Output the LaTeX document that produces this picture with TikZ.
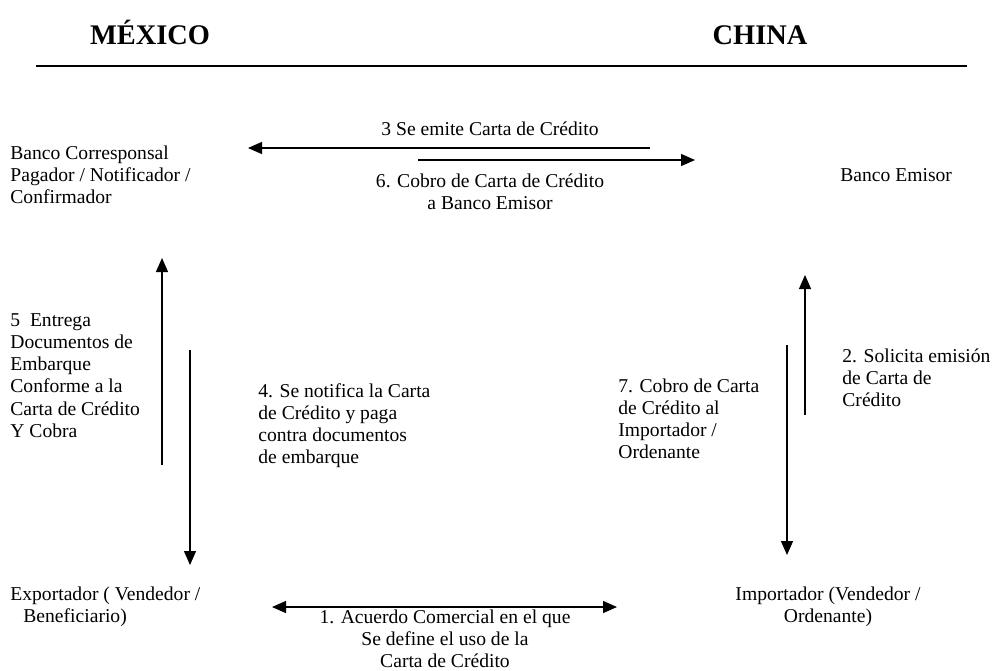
\documentclass[tikz,border=0pt]{standalone}
\usepackage{fontspec}
\setmainfont{Liberation Serif}
\usetikzlibrary{arrows.meta}
\begin{document}
\begin{tikzpicture}[x=0.5pt,y=-0.5pt,
 txt/.style={inner sep=0pt, font=\fontsize{9.8}{11.1}\selectfont},
 lbl/.style={txt, anchor=north west, align=left},
 clbl/.style={txt, anchor=north, align=center},
 hdr/.style={inner sep=0pt, anchor=base, font=\fontsize{14.2}{16}\selectfont\bfseries},
 tip/.tip={Triangle[length=7pt,width=6pt]},
 arr/.style={line width=0.65pt, -tip},
 darr/.style={line width=0.65pt, tip-tip},
 rule/.style={line width=0.6pt}]
\useasboundingbox (0,0) rectangle (1005,670);
% headers
\node[hdr] (mex) at (150,44) {MÉXICO};
\node[hdr] (chn) at (760,44) {CHINA};
\coordinate (ruleL) at (36,66);
\coordinate (ruleR) at (967,66);
\draw[rule] (ruleL) -- (ruleR);
% parties
\node[lbl] (bcorr) at (10,145) {Banco Corresponsal\\Pagador / Notificador /\\Confirmador};
\node[lbl] (bemi) at (840,168) {Banco Emisor};
\node[lbl] (exp) at (10,586) {Exportador ( Vendedor /\\\hspace*{6.5pt}Beneficiario)};
\node[clbl] (imp) at (828,586) {Importador (Vendedor /\\Ordenante)};
% labels
\node[clbl] (l3) at (490,121) {3 Se emite Carta de Crédito};
\node[clbl] (l6) at (490,173) {6. Cobro de Carta de Crédito\\a Banco Emisor};
\node[lbl] (l5) at (10,313) {5\ \ Entrega\\Documentos de\\Embarque\\Conforme a la\\Carta de Crédito\\Y Cobra};
\node[lbl] (l4) at (258,383) {4. Se notifica la Carta\\de Crédito y paga\\contra documentos\\de embarque};
\node[lbl] (l2) at (842,348) {2. Solicita emisión\\de Carta de\\Crédito};
\node[lbl] (l7) at (618,378) {7. Cobro de Carta\\de Crédito al\\Importador /\\Ordenante};
\node[clbl] (l1) at (445,609) {1. Acuerdo Comercial en el que\\Se define el uso de la\\Carta de Crédito};
% arrow end points
\coordinate (a3s) at (650,148); \coordinate (a3e) at (248,148);
\coordinate (a6s) at (418,160); \coordinate (a6e) at (695,160);
\coordinate (a5s) at (162,465); \coordinate (a5e) at (162,258);
\coordinate (a4s) at (190,350); \coordinate (a4e) at (190,565);
\coordinate (a2s) at (805,415); \coordinate (a2e) at (805,275);
\coordinate (a7s) at (787,345); \coordinate (a7e) at (787,555);
\coordinate (a1s) at (272,607); \coordinate (a1e) at (617,607);
\draw[arr] (a3s) -- (a3e);
\draw[arr] (a6s) -- (a6e);
\draw[arr] (a5s) -- (a5e);
\draw[arr] (a4s) -- (a4e);
\draw[arr] (a2s) -- (a2e);
\draw[arr] (a7s) -- (a7e);
\draw[darr] (a1s) -- (a1e);
\end{tikzpicture}
\end{document}
